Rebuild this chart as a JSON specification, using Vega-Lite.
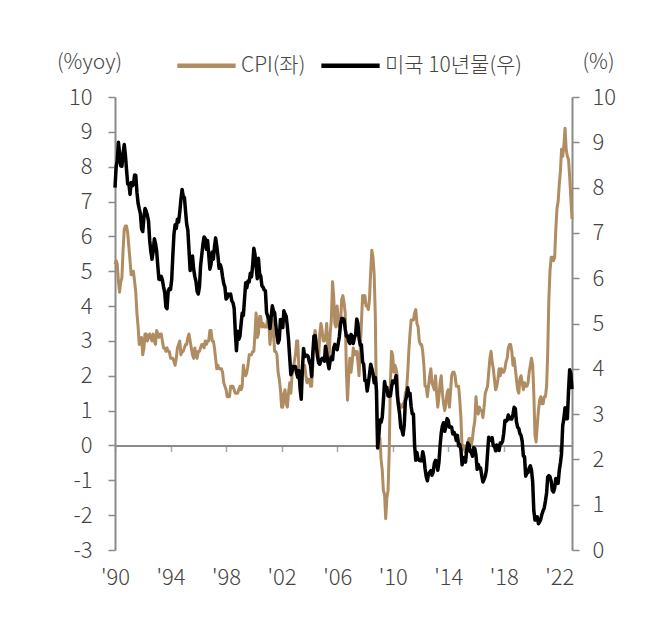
{
  "$schema": "https://vega.github.io/schema/vega-lite/v6.json",
  "autosize": {"type": "none"},
  "width": 457,
  "height": 453,
  "padding": {"left": 115, "top": 97, "right": 85, "bottom": 74},
  "background": "white",
  "config": {
    "view": {"stroke": null},
    "font": "Noto Sans CJK KR",
    "axis": {"labelFont": "Noto Sans CJK KR", "titleFont": "Noto Sans CJK KR", "labelColor": "#444444", "titleColor": "#444444", "labelFontWeight": 300, "titleFontWeight": 300, "grid": false},
    "legend": {"labelFont": "Noto Sans CJK KR", "labelFontWeight": 300, "labelColor": "#444444"}
  },
  "data": {"values": [
{"d":"1990-01-01","c":5.2,"y":8.0},{"d":"1990-02-01","c":5.3,"y":8.47},{"d":"1990-03-01","c":5.2,"y":8.59},{"d":"1990-04-01","c":4.7,"y":9.0},{"d":"1990-05-01","c":4.4,"y":8.76},{"d":"1990-06-01","c":4.7,"y":8.48},{"d":"1990-07-01","c":4.8,"y":8.47},{"d":"1990-08-01","c":5.6,"y":8.75},{"d":"1990-09-01","c":6.2,"y":8.95},{"d":"1990-10-01","c":6.3,"y":8.72},{"d":"1990-11-01","c":6.3,"y":8.39},{"d":"1990-12-01","c":6.1,"y":8.08},
{"d":"1991-01-01","c":5.7,"y":8.09},{"d":"1991-02-01","c":5.3,"y":7.85},{"d":"1991-03-01","c":4.9,"y":8.11},{"d":"1991-04-01","c":4.9,"y":8.04},{"d":"1991-05-01","c":5.0,"y":8.07},{"d":"1991-06-01","c":4.7,"y":8.28},{"d":"1991-07-01","c":4.4,"y":8.27},{"d":"1991-08-01","c":3.8,"y":7.9},{"d":"1991-09-01","c":3.4,"y":7.65},{"d":"1991-10-01","c":2.9,"y":7.53},{"d":"1991-11-01","c":3.0,"y":7.42},{"d":"1991-12-01","c":3.1,"y":7.09},
{"d":"1992-01-01","c":2.6,"y":7.03},{"d":"1992-02-01","c":2.8,"y":7.34},{"d":"1992-03-01","c":3.2,"y":7.54},{"d":"1992-04-01","c":3.2,"y":7.48},{"d":"1992-05-01","c":3.0,"y":7.39},{"d":"1992-06-01","c":3.1,"y":7.26},{"d":"1992-07-01","c":3.2,"y":6.84},{"d":"1992-08-01","c":3.1,"y":6.59},{"d":"1992-09-01","c":3.0,"y":6.42},{"d":"1992-10-01","c":3.2,"y":6.59},{"d":"1992-11-01","c":3.0,"y":6.87},{"d":"1992-12-01","c":2.9,"y":6.77},
{"d":"1993-01-01","c":3.3,"y":6.6},{"d":"1993-02-01","c":3.2,"y":6.26},{"d":"1993-03-01","c":3.1,"y":5.98},{"d":"1993-04-01","c":3.2,"y":5.97},{"d":"1993-05-01","c":3.2,"y":6.04},{"d":"1993-06-01","c":3.0,"y":5.96},{"d":"1993-07-01","c":2.8,"y":5.81},{"d":"1993-08-01","c":2.8,"y":5.68},{"d":"1993-09-01","c":2.7,"y":5.36},{"d":"1993-10-01","c":2.8,"y":5.33},{"d":"1993-11-01","c":2.7,"y":5.72},{"d":"1993-12-01","c":2.7,"y":5.77},
{"d":"1994-01-01","c":2.5,"y":5.75},{"d":"1994-02-01","c":2.5,"y":5.97},{"d":"1994-03-01","c":2.5,"y":6.48},{"d":"1994-04-01","c":2.4,"y":6.97},{"d":"1994-05-01","c":2.3,"y":7.18},{"d":"1994-06-01","c":2.5,"y":7.1},{"d":"1994-07-01","c":2.8,"y":7.3},{"d":"1994-08-01","c":2.9,"y":7.24},{"d":"1994-09-01","c":3.0,"y":7.46},{"d":"1994-10-01","c":2.6,"y":7.74},{"d":"1994-11-01","c":2.7,"y":7.96},{"d":"1994-12-01","c":2.7,"y":7.81},
{"d":"1995-01-01","c":2.8,"y":7.78},{"d":"1995-02-01","c":2.9,"y":7.47},{"d":"1995-03-01","c":2.9,"y":7.2},{"d":"1995-04-01","c":3.1,"y":7.06},{"d":"1995-05-01","c":3.2,"y":6.63},{"d":"1995-06-01","c":3.0,"y":6.17},{"d":"1995-07-01","c":2.8,"y":6.28},{"d":"1995-08-01","c":2.6,"y":6.49},{"d":"1995-09-01","c":2.5,"y":6.2},{"d":"1995-10-01","c":2.8,"y":6.04},{"d":"1995-11-01","c":2.6,"y":5.93},{"d":"1995-12-01","c":2.5,"y":5.71},
{"d":"1996-01-01","c":2.7,"y":5.65},{"d":"1996-02-01","c":2.7,"y":5.81},{"d":"1996-03-01","c":2.8,"y":6.27},{"d":"1996-04-01","c":2.9,"y":6.51},{"d":"1996-05-01","c":2.9,"y":6.74},{"d":"1996-06-01","c":2.8,"y":6.91},{"d":"1996-07-01","c":3.0,"y":6.87},{"d":"1996-08-01","c":2.9,"y":6.64},{"d":"1996-09-01","c":3.0,"y":6.83},{"d":"1996-10-01","c":3.0,"y":6.53},{"d":"1996-11-01","c":3.3,"y":6.2},{"d":"1996-12-01","c":3.3,"y":6.3},
{"d":"1997-01-01","c":3.0,"y":6.58},{"d":"1997-02-01","c":3.0,"y":6.42},{"d":"1997-03-01","c":2.8,"y":6.69},{"d":"1997-04-01","c":2.5,"y":6.89},{"d":"1997-05-01","c":2.2,"y":6.71},{"d":"1997-06-01","c":2.3,"y":6.49},{"d":"1997-07-01","c":2.2,"y":6.22},{"d":"1997-08-01","c":2.2,"y":6.3},{"d":"1997-09-01","c":2.2,"y":6.21},{"d":"1997-10-01","c":2.1,"y":6.03},{"d":"1997-11-01","c":1.8,"y":5.88},{"d":"1997-12-01","c":1.7,"y":5.81},
{"d":"1998-01-01","c":1.6,"y":5.54},{"d":"1998-02-01","c":1.4,"y":5.57},{"d":"1998-03-01","c":1.4,"y":5.65},{"d":"1998-04-01","c":1.4,"y":5.64},{"d":"1998-05-01","c":1.7,"y":5.65},{"d":"1998-06-01","c":1.7,"y":5.5},{"d":"1998-07-01","c":1.7,"y":5.46},{"d":"1998-08-01","c":1.6,"y":5.34},{"d":"1998-09-01","c":1.5,"y":4.81},{"d":"1998-10-01","c":1.5,"y":4.4},{"d":"1998-11-01","c":1.5,"y":4.83},{"d":"1998-12-01","c":1.6,"y":4.65},
{"d":"1999-01-01","c":1.7,"y":4.72},{"d":"1999-02-01","c":1.6,"y":5.0},{"d":"1999-03-01","c":1.7,"y":5.23},{"d":"1999-04-01","c":2.3,"y":5.18},{"d":"1999-05-01","c":2.1,"y":5.54},{"d":"1999-06-01","c":2.0,"y":5.9},{"d":"1999-07-01","c":2.1,"y":5.79},{"d":"1999-08-01","c":2.3,"y":5.94},{"d":"1999-09-01","c":2.6,"y":5.92},{"d":"1999-10-01","c":2.6,"y":6.11},{"d":"1999-11-01","c":2.6,"y":6.03},{"d":"1999-12-01","c":2.7,"y":6.28},
{"d":"2000-01-01","c":2.7,"y":6.66},{"d":"2000-02-01","c":3.2,"y":6.52},{"d":"2000-03-01","c":3.8,"y":6.26},{"d":"2000-04-01","c":3.1,"y":5.99},{"d":"2000-05-01","c":3.2,"y":6.44},{"d":"2000-06-01","c":3.7,"y":6.1},{"d":"2000-07-01","c":3.7,"y":6.05},{"d":"2000-08-01","c":3.4,"y":5.83},{"d":"2000-09-01","c":3.5,"y":5.8},{"d":"2000-10-01","c":3.4,"y":5.74},{"d":"2000-11-01","c":3.4,"y":5.72},{"d":"2000-12-01","c":3.4,"y":5.24},
{"d":"2001-01-01","c":3.7,"y":5.16},{"d":"2001-02-01","c":3.5,"y":5.1},{"d":"2001-03-01","c":2.9,"y":4.89},{"d":"2001-04-01","c":3.3,"y":5.14},{"d":"2001-05-01","c":3.6,"y":5.39},{"d":"2001-06-01","c":3.2,"y":5.28},{"d":"2001-07-01","c":2.7,"y":5.24},{"d":"2001-08-01","c":2.7,"y":4.97},{"d":"2001-09-01","c":2.6,"y":4.73},{"d":"2001-10-01","c":2.1,"y":4.57},{"d":"2001-11-01","c":1.9,"y":4.65},{"d":"2001-12-01","c":1.6,"y":5.09},
{"d":"2002-01-01","c":1.1,"y":5.04},{"d":"2002-02-01","c":1.1,"y":4.91},{"d":"2002-03-01","c":1.5,"y":5.28},{"d":"2002-04-01","c":1.6,"y":5.21},{"d":"2002-05-01","c":1.2,"y":5.16},{"d":"2002-06-01","c":1.1,"y":4.93},{"d":"2002-07-01","c":1.5,"y":4.65},{"d":"2002-08-01","c":1.8,"y":4.26},{"d":"2002-09-01","c":1.5,"y":3.87},{"d":"2002-10-01","c":2.0,"y":3.94},{"d":"2002-11-01","c":2.2,"y":4.05},{"d":"2002-12-01","c":2.4,"y":4.03},
{"d":"2003-01-01","c":2.6,"y":4.05},{"d":"2003-02-01","c":3.0,"y":3.9},{"d":"2003-03-01","c":3.0,"y":3.81},{"d":"2003-04-01","c":2.2,"y":3.96},{"d":"2003-05-01","c":2.1,"y":3.57},{"d":"2003-06-01","c":2.1,"y":3.33},{"d":"2003-07-01","c":2.1,"y":3.98},{"d":"2003-08-01","c":2.2,"y":4.45},{"d":"2003-09-01","c":2.3,"y":4.27},{"d":"2003-10-01","c":2.0,"y":4.29},{"d":"2003-11-01","c":1.8,"y":4.3},{"d":"2003-12-01","c":1.9,"y":4.27},
{"d":"2004-01-01","c":1.9,"y":4.15},{"d":"2004-02-01","c":1.7,"y":4.08},{"d":"2004-03-01","c":1.7,"y":3.83},{"d":"2004-04-01","c":2.3,"y":4.35},{"d":"2004-05-01","c":3.1,"y":4.72},{"d":"2004-06-01","c":3.3,"y":4.73},{"d":"2004-07-01","c":3.0,"y":4.5},{"d":"2004-08-01","c":2.7,"y":4.28},{"d":"2004-09-01","c":2.5,"y":4.13},{"d":"2004-10-01","c":3.2,"y":4.1},{"d":"2004-11-01","c":3.5,"y":4.19},{"d":"2004-12-01","c":3.3,"y":4.23},
{"d":"2005-01-01","c":3.0,"y":4.22},{"d":"2005-02-01","c":3.0,"y":4.17},{"d":"2005-03-01","c":3.1,"y":4.5},{"d":"2005-04-01","c":3.5,"y":4.34},{"d":"2005-05-01","c":2.8,"y":4.14},{"d":"2005-06-01","c":2.5,"y":4.0},{"d":"2005-07-01","c":3.2,"y":4.18},{"d":"2005-08-01","c":3.6,"y":4.26},{"d":"2005-09-01","c":4.7,"y":4.2},{"d":"2005-10-01","c":4.3,"y":4.46},{"d":"2005-11-01","c":3.5,"y":4.54},{"d":"2005-12-01","c":3.4,"y":4.47},
{"d":"2006-01-01","c":4.0,"y":4.42},{"d":"2006-02-01","c":3.6,"y":4.57},{"d":"2006-03-01","c":3.4,"y":4.72},{"d":"2006-04-01","c":3.5,"y":4.99},{"d":"2006-05-01","c":4.2,"y":5.11},{"d":"2006-06-01","c":4.3,"y":5.11},{"d":"2006-07-01","c":4.1,"y":5.09},{"d":"2006-08-01","c":3.8,"y":4.88},{"d":"2006-09-01","c":2.1,"y":4.72},{"d":"2006-10-01","c":1.3,"y":4.73},{"d":"2006-11-01","c":2.0,"y":4.6},{"d":"2006-12-01","c":2.5,"y":4.56},
{"d":"2007-01-01","c":2.1,"y":4.76},{"d":"2007-02-01","c":2.4,"y":4.72},{"d":"2007-03-01","c":2.8,"y":4.56},{"d":"2007-04-01","c":2.6,"y":4.69},{"d":"2007-05-01","c":2.7,"y":4.75},{"d":"2007-06-01","c":2.7,"y":5.1},{"d":"2007-07-01","c":2.4,"y":5.0},{"d":"2007-08-01","c":2.0,"y":4.67},{"d":"2007-09-01","c":2.8,"y":4.52},{"d":"2007-10-01","c":3.5,"y":4.53},{"d":"2007-11-01","c":4.3,"y":4.15},{"d":"2007-12-01","c":4.1,"y":4.1},
{"d":"2008-01-01","c":4.3,"y":3.74},{"d":"2008-02-01","c":4.0,"y":3.74},{"d":"2008-03-01","c":4.0,"y":3.51},{"d":"2008-04-01","c":3.9,"y":3.68},{"d":"2008-05-01","c":4.2,"y":3.88},{"d":"2008-06-01","c":5.0,"y":4.1},{"d":"2008-07-01","c":5.6,"y":4.01},{"d":"2008-08-01","c":5.4,"y":3.89},{"d":"2008-09-01","c":4.9,"y":3.69},{"d":"2008-10-01","c":3.7,"y":3.81},{"d":"2008-11-01","c":1.1,"y":3.53},{"d":"2008-12-01","c":0.1,"y":2.25},
{"d":"2009-01-01","c":0.0,"y":2.52},{"d":"2009-02-01","c":0.2,"y":2.87},{"d":"2009-03-01","c":-0.4,"y":2.82},{"d":"2009-04-01","c":-0.7,"y":2.93},{"d":"2009-05-01","c":-1.3,"y":3.29},{"d":"2009-06-01","c":-1.4,"y":3.72},{"d":"2009-07-01","c":-2.1,"y":3.56},{"d":"2009-08-01","c":-1.5,"y":3.59},{"d":"2009-09-01","c":-1.3,"y":3.4},{"d":"2009-10-01","c":-0.2,"y":3.39},{"d":"2009-11-01","c":1.8,"y":3.4},{"d":"2009-12-01","c":2.7,"y":3.59},
{"d":"2010-01-01","c":2.6,"y":3.73},{"d":"2010-02-01","c":2.1,"y":3.69},{"d":"2010-03-01","c":2.3,"y":3.73},{"d":"2010-04-01","c":2.2,"y":3.85},{"d":"2010-05-01","c":2.0,"y":3.42},{"d":"2010-06-01","c":1.1,"y":3.2},{"d":"2010-07-01","c":1.2,"y":3.01},{"d":"2010-08-01","c":1.1,"y":2.7},{"d":"2010-09-01","c":1.1,"y":2.65},{"d":"2010-10-01","c":1.2,"y":2.54},{"d":"2010-11-01","c":1.1,"y":2.76},{"d":"2010-12-01","c":1.5,"y":3.29},
{"d":"2011-01-01","c":1.6,"y":3.39},{"d":"2011-02-01","c":2.1,"y":3.58},{"d":"2011-03-01","c":2.7,"y":3.41},{"d":"2011-04-01","c":3.2,"y":3.46},{"d":"2011-05-01","c":3.6,"y":3.17},{"d":"2011-06-01","c":3.6,"y":3.0},{"d":"2011-07-01","c":3.6,"y":3.0},{"d":"2011-08-01","c":3.8,"y":2.3},{"d":"2011-09-01","c":3.9,"y":1.98},{"d":"2011-10-01","c":3.5,"y":2.15},{"d":"2011-11-01","c":3.4,"y":2.01},{"d":"2011-12-01","c":3.0,"y":1.98},
{"d":"2012-01-01","c":2.9,"y":1.97},{"d":"2012-02-01","c":2.9,"y":1.97},{"d":"2012-03-01","c":2.7,"y":2.17},{"d":"2012-04-01","c":2.3,"y":2.05},{"d":"2012-05-01","c":1.7,"y":1.8},{"d":"2012-06-01","c":1.7,"y":1.62},{"d":"2012-07-01","c":1.4,"y":1.53},{"d":"2012-08-01","c":1.7,"y":1.68},{"d":"2012-09-01","c":2.0,"y":1.72},{"d":"2012-10-01","c":2.2,"y":1.75},{"d":"2012-11-01","c":1.8,"y":1.65},{"d":"2012-12-01","c":1.7,"y":1.72},
{"d":"2013-01-01","c":1.6,"y":1.91},{"d":"2013-02-01","c":2.0,"y":1.98},{"d":"2013-03-01","c":1.5,"y":1.96},{"d":"2013-04-01","c":1.1,"y":1.76},{"d":"2013-05-01","c":1.4,"y":1.93},{"d":"2013-06-01","c":1.8,"y":2.3},{"d":"2013-07-01","c":2.0,"y":2.58},{"d":"2013-08-01","c":1.5,"y":2.74},{"d":"2013-09-01","c":1.2,"y":2.81},{"d":"2013-10-01","c":1.0,"y":2.62},{"d":"2013-11-01","c":1.2,"y":2.72},{"d":"2013-12-01","c":1.5,"y":2.9},
{"d":"2014-01-01","c":1.6,"y":2.86},{"d":"2014-02-01","c":1.1,"y":2.71},{"d":"2014-03-01","c":1.5,"y":2.72},{"d":"2014-04-01","c":2.0,"y":2.71},{"d":"2014-05-01","c":2.1,"y":2.56},{"d":"2014-06-01","c":2.1,"y":2.6},{"d":"2014-07-01","c":2.0,"y":2.54},{"d":"2014-08-01","c":1.7,"y":2.42},{"d":"2014-09-01","c":1.7,"y":2.53},{"d":"2014-10-01","c":1.7,"y":2.3},{"d":"2014-11-01","c":1.3,"y":2.33},{"d":"2014-12-01","c":0.8,"y":2.21},
{"d":"2015-01-01","c":-0.1,"y":1.88},{"d":"2015-02-01","c":0.0,"y":1.98},{"d":"2015-03-01","c":-0.1,"y":2.04},{"d":"2015-04-01","c":-0.2,"y":1.94},{"d":"2015-05-01","c":0.0,"y":2.2},{"d":"2015-06-01","c":0.1,"y":2.36},{"d":"2015-07-01","c":0.2,"y":2.32},{"d":"2015-08-01","c":0.2,"y":2.17},{"d":"2015-09-01","c":0.0,"y":2.17},{"d":"2015-10-01","c":0.2,"y":2.07},{"d":"2015-11-01","c":0.5,"y":2.26},{"d":"2015-12-01","c":0.7,"y":2.24},
{"d":"2016-01-01","c":1.4,"y":2.09},{"d":"2016-02-01","c":1.0,"y":1.78},{"d":"2016-03-01","c":0.9,"y":1.89},{"d":"2016-04-01","c":1.1,"y":1.81},{"d":"2016-05-01","c":1.0,"y":1.81},{"d":"2016-06-01","c":1.0,"y":1.64},{"d":"2016-07-01","c":0.8,"y":1.5},{"d":"2016-08-01","c":1.1,"y":1.56},{"d":"2016-09-01","c":1.5,"y":1.63},{"d":"2016-10-01","c":1.6,"y":1.76},{"d":"2016-11-01","c":1.7,"y":2.14},{"d":"2016-12-01","c":2.1,"y":2.49},
{"d":"2017-01-01","c":2.5,"y":2.43},{"d":"2017-02-01","c":2.7,"y":2.42},{"d":"2017-03-01","c":2.4,"y":2.48},{"d":"2017-04-01","c":2.2,"y":2.3},{"d":"2017-05-01","c":1.9,"y":2.3},{"d":"2017-06-01","c":1.6,"y":2.19},{"d":"2017-07-01","c":1.7,"y":2.32},{"d":"2017-08-01","c":1.9,"y":2.21},{"d":"2017-09-01","c":2.2,"y":2.2},{"d":"2017-10-01","c":2.0,"y":2.36},{"d":"2017-11-01","c":2.2,"y":2.35},{"d":"2017-12-01","c":2.1,"y":2.4},
{"d":"2018-01-01","c":2.1,"y":2.58},{"d":"2018-02-01","c":2.2,"y":2.86},{"d":"2018-03-01","c":2.4,"y":2.84},{"d":"2018-04-01","c":2.5,"y":2.87},{"d":"2018-05-01","c":2.8,"y":2.98},{"d":"2018-06-01","c":2.9,"y":2.91},{"d":"2018-07-01","c":2.9,"y":2.89},{"d":"2018-08-01","c":2.7,"y":2.89},{"d":"2018-09-01","c":2.3,"y":3.0},{"d":"2018-10-01","c":2.5,"y":3.15},{"d":"2018-11-01","c":2.2,"y":3.12},{"d":"2018-12-01","c":1.9,"y":2.83},
{"d":"2019-01-01","c":1.6,"y":2.71},{"d":"2019-02-01","c":1.5,"y":2.68},{"d":"2019-03-01","c":1.9,"y":2.57},{"d":"2019-04-01","c":2.0,"y":2.53},{"d":"2019-05-01","c":1.8,"y":2.4},{"d":"2019-06-01","c":1.6,"y":2.07},{"d":"2019-07-01","c":1.8,"y":2.06},{"d":"2019-08-01","c":1.7,"y":1.63},{"d":"2019-09-01","c":1.7,"y":1.7},{"d":"2019-10-01","c":1.8,"y":1.71},{"d":"2019-11-01","c":2.1,"y":1.81},{"d":"2019-12-01","c":2.3,"y":1.86},
{"d":"2020-01-01","c":2.5,"y":1.76},{"d":"2020-02-01","c":2.3,"y":1.5},{"d":"2020-03-01","c":1.5,"y":0.87},{"d":"2020-04-01","c":0.3,"y":0.66},{"d":"2020-05-01","c":0.1,"y":0.67},{"d":"2020-06-01","c":0.6,"y":0.73},{"d":"2020-07-01","c":1.0,"y":0.58},{"d":"2020-08-01","c":1.3,"y":0.62},{"d":"2020-09-01","c":1.4,"y":0.68},{"d":"2020-10-01","c":1.2,"y":0.79},{"d":"2020-11-01","c":1.2,"y":0.87},{"d":"2020-12-01","c":1.4,"y":0.93},
{"d":"2021-01-01","c":1.4,"y":1.08},{"d":"2021-02-01","c":1.7,"y":1.26},{"d":"2021-03-01","c":2.6,"y":1.61},{"d":"2021-04-01","c":4.2,"y":1.64},{"d":"2021-05-01","c":5.0,"y":1.62},{"d":"2021-06-01","c":5.4,"y":1.52},{"d":"2021-07-01","c":5.4,"y":1.32},{"d":"2021-08-01","c":5.3,"y":1.28},{"d":"2021-09-01","c":5.4,"y":1.37},{"d":"2021-10-01","c":6.2,"y":1.58},{"d":"2021-11-01","c":6.8,"y":1.56},{"d":"2021-12-01","c":7.0,"y":1.47},
{"d":"2022-01-01","c":7.5,"y":1.76},{"d":"2022-02-01","c":7.9,"y":1.93},{"d":"2022-03-01","c":8.5,"y":2.13},{"d":"2022-04-01","c":8.3,"y":2.75},{"d":"2022-05-01","c":8.6,"y":2.9},{"d":"2022-06-01","c":9.1,"y":3.14},{"d":"2022-07-01","c":8.5,"y":2.9},{"d":"2022-08-01","c":8.3,"y":2.9},{"d":"2022-09-01","c":8.2,"y":3.52},{"d":"2022-10-01","c":7.7,"y":3.98},{"d":"2022-11-01","c":7.1,"y":3.89},{"d":"2022-12-01","c":6.5,"y":3.55}
  ]},
  "layer": [
    {
      "mark": {"type": "line", "strokeWidth": 3, "strokeJoin": "round"},
      "encoding": {
        "x": {"field": "d", "type": "temporal",
          "scale": {"domain": [{"year": 1990, "month": 1, "date": 1}, {"year": 2022, "month": 12, "date": 1}]},
          "axis": {"orient": "bottom", "offset": -104.5, "title": null, "labels": false, "domain": true, "domainColor": "#8a8a8a", "domainWidth": 2, "ticks": true, "tickColor": "#aaaaaa", "tickSize": 6, "tickWidth": 1.5,
            "values": [{"year":1990,"month":1,"date":1},{"year":1994,"month":1,"date":1},{"year":1998,"month":1,"date":1},{"year":2002,"month":1,"date":1},{"year":2006,"month":1,"date":1},{"year":2010,"month":1,"date":1},{"year":2014,"month":1,"date":1},{"year":2018,"month":1,"date":1},{"year":2022,"month":1,"date":1}]}},
        "y": {"field": "c", "type": "quantitative",
          "scale": {"domain": [-3, 10], "nice": false, "zero": false},
          "axis": {"orient": "left", "values": [-3,-2,-1,0,1,2,3,4,5,6,7,8,9,10], "labelExpr": "'' + datum.value", "labelFontSize": 22, "labelPadding": 16, "domainColor": "#8a8a8a", "domainWidth": 2, "tickColor": "#8a8a8a", "tickSize": 7, "tickWidth": 1.5,
            "title": "(%yoy)", "titleAngle": 0, "titleFontSize": 21, "titleX": -26, "titleY": -35, "titleAlign": "center", "titleBaseline": "middle"}},
        "color": {"datum": "CPI(좌)", "type": "nominal",
          "scale": {"domain": ["CPI(좌)", "미국 10년물(우)"], "range": ["#B08C62", "#000000"]},
          "legend": {"orient": "none", "legendX": 60, "legendY": -63, "direction": "horizontal", "title": null, "symbolType": "stroke", "symbolSize": 3400, "symbolStrokeWidth": 4.5, "labelFontSize": 21, "labelOffset": 3, "columnPadding": 6}}
      }
    },
    {
      "mark": {"type": "line", "strokeWidth": 3.5, "strokeJoin": "round"},
      "encoding": {
        "x": {"field": "d", "type": "temporal",
          "axis": {"orient": "bottom", "title": null, "domain": false, "ticks": false, "labelFlush": false, "labelPadding": 17, "labelFontSize": 22, "format": "'%y",
            "values": [{"year":1990,"month":1,"date":1},{"year":1994,"month":1,"date":1},{"year":1998,"month":1,"date":1},{"year":2002,"month":1,"date":1},{"year":2006,"month":1,"date":1},{"year":2010,"month":1,"date":1},{"year":2014,"month":1,"date":1},{"year":2018,"month":1,"date":1},{"year":2022,"month":1,"date":1}]}},
        "y": {"field": "y", "type": "quantitative",
          "scale": {"domain": [0, 10], "nice": false},
          "axis": {"orient": "right", "values": [0,1,2,3,4,5,6,7,8,9,10], "labelFontSize": 22, "labelPadding": 13, "domainColor": "#8a8a8a", "domainWidth": 2, "tickColor": "#8a8a8a", "tickSize": 7, "tickWidth": 1.5,
            "title": "(%)", "titleAngle": 0, "titleFontSize": 21, "titleX": 26, "titleY": -35, "titleAlign": "center", "titleBaseline": "middle"}},
        "color": {"datum": "미국 10년물(우)", "type": "nominal"}
      }
    }
  ],
  "resolve": {"scale": {"y": "independent"}, "axis": {"x": "independent", "y": "independent"}}
}
